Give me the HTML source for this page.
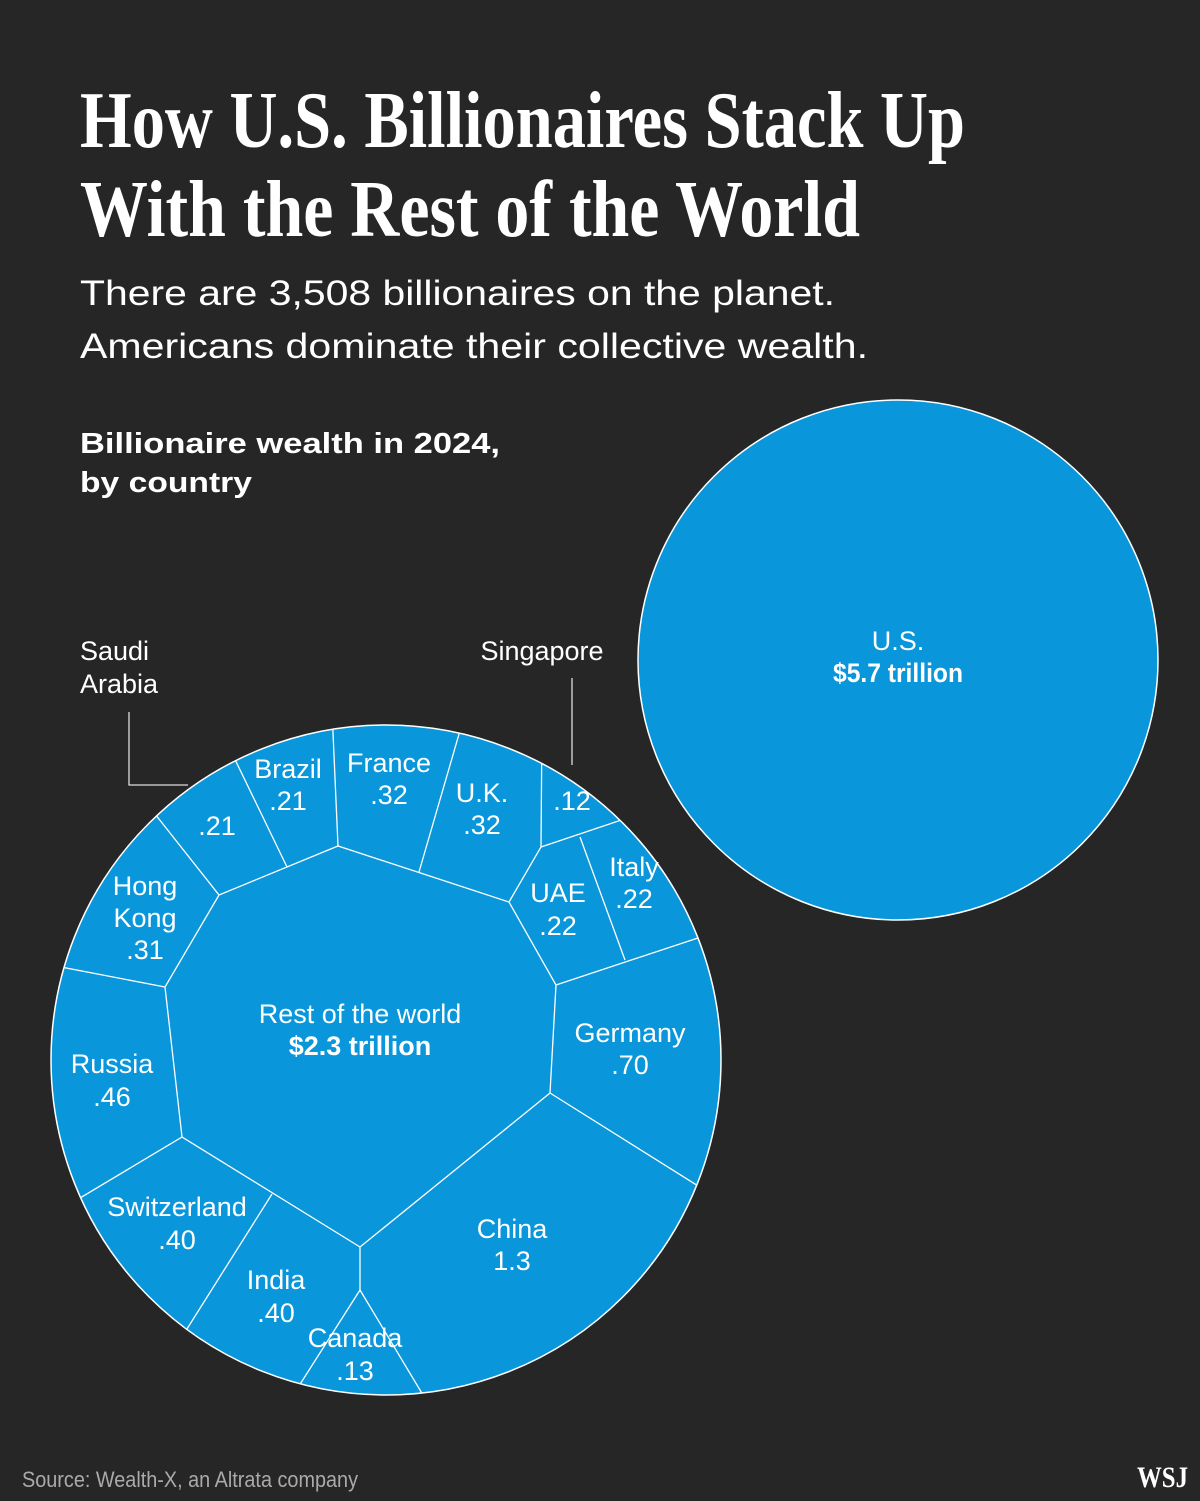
<!DOCTYPE html>
<html><head><style>
html,body{margin:0;padding:0;background:#262626;}
svg{display:block}
.l{font-family:"Liberation Sans",sans-serif;fill:#fff;font-size:27px;text-anchor:middle}
</style></head><body>
<svg width="1200" height="1501" viewBox="0 0 1200 1501" xmlns="http://www.w3.org/2000/svg">
<rect width="1200" height="1501" fill="#262626"/>
<text x="80" y="147" font-family="Liberation Serif,serif" font-weight="bold" font-size="80" fill="#fff" textLength="885" lengthAdjust="spacingAndGlyphs">How U.S. Billionaires Stack Up</text>
<text x="80" y="236" font-family="Liberation Serif,serif" font-weight="bold" font-size="80" fill="#fff" textLength="780" lengthAdjust="spacingAndGlyphs">With the Rest of the World</text>
<text x="80" y="305" font-family="Liberation Sans,sans-serif" font-size="35" fill="#fff" textLength="755" lengthAdjust="spacingAndGlyphs">There are 3,508 billionaires on the planet.</text>
<text x="80" y="358" font-family="Liberation Sans,sans-serif" font-size="35" fill="#fff" textLength="788" lengthAdjust="spacingAndGlyphs">Americans dominate their collective wealth.</text>
<text x="80" y="453" font-family="Liberation Sans,sans-serif" font-weight="bold" font-size="29" fill="#fff" textLength="420" lengthAdjust="spacingAndGlyphs">Billionaire wealth in 2024,</text>
<text x="80" y="492" font-family="Liberation Sans,sans-serif" font-weight="bold" font-size="29" fill="#fff" textLength="172" lengthAdjust="spacingAndGlyphs">by country</text>

<circle cx="898" cy="660" r="260" fill="#0a96da" stroke="#fff" stroke-width="1.5"/>
<text class="l" x="898" y="650">U.S.</text>
<text class="l" x="898" y="682" font-weight="bold" textLength="130" lengthAdjust="spacingAndGlyphs">$5.7 trillion</text>

<defs><clipPath id="c"><circle cx="386" cy="1060" r="335"/></clipPath></defs>
<circle cx="386" cy="1060" r="335" fill="#0a96da" stroke="#fff" stroke-width="1.5"/>
<g clip-path="url(#c)" stroke="#fff" stroke-width="1.3" fill="none">
<polygon points="219,895 338,846 509,902 556,985 550,1093 360,1247 182,1137 165,987"/>
<line x1="219" y1="895" x2="140" y2="795"/>
<line x1="287" y1="867" x2="228" y2="745"/>
<line x1="338" y1="846" x2="332" y2="710"/>
<line x1="419" y1="872" x2="466" y2="710"/>
<polyline points="509,902 541,847 542,720"/>
<line x1="541" y1="847" x2="660" y2="807"/>
<line x1="580" y1="837" x2="625" y2="960"/>
<line x1="556" y1="985" x2="740" y2="924"/>
<line x1="165" y1="987" x2="40" y2="963"/>
<line x1="182" y1="1137" x2="60" y2="1210"/>
<line x1="272" y1="1194" x2="180" y2="1340"/>
<polyline points="360,1247 360,1290 290,1400"/>
<line x1="360" y1="1290" x2="432" y2="1410"/>
<line x1="550" y1="1093" x2="730" y2="1206"/>
</g>
<polyline points="129,712 129,785 188,785" stroke="#ddd" stroke-width="1.3" fill="none"/>
<line x1="572" y1="678" x2="572" y2="765" stroke="#ddd" stroke-width="1.3"/>

<text class="l" x="80" y="660" style="text-anchor:start">Saudi</text>
<text class="l" x="80" y="693" style="text-anchor:start">Arabia</text>
<text class="l" x="542" y="660">Singapore</text>
<text class="l" x="288" y="778">Brazil</text><text class="l" x="288" y="810">.21</text>
<text class="l" x="217" y="835">.21</text>
<text class="l" x="389" y="772">France</text><text class="l" x="389" y="804">.32</text>
<text class="l" x="482" y="802">U.K.</text><text class="l" x="482" y="834">.32</text>
<text class="l" x="572" y="810">.12</text>
<text class="l" x="634" y="876">Italy</text><text class="l" x="634" y="908">.22</text>
<text class="l" x="558" y="902">UAE</text><text class="l" x="558" y="935">.22</text>
<text class="l" x="145" y="895">Hong</text><text class="l" x="145" y="927">Kong</text><text class="l" x="145" y="959">.31</text>
<text class="l" x="360" y="1023">Rest of the world</text>
<text class="l" x="360" y="1055" font-weight="bold">$2.3 trillion</text>
<text class="l" x="630" y="1042">Germany</text><text class="l" x="630" y="1074">.70</text>
<text class="l" x="112" y="1073">Russia</text><text class="l" x="112" y="1106">.46</text>
<text class="l" x="177" y="1216">Switzerland</text><text class="l" x="177" y="1249">.40</text>
<text class="l" x="276" y="1289">India</text><text class="l" x="276" y="1322">.40</text>
<text class="l" x="355" y="1347">Canada</text><text class="l" x="355" y="1380">.13</text>
<text class="l" x="512" y="1238">China</text><text class="l" x="512" y="1270">1.3</text>

<text x="22" y="1487" font-family="Liberation Sans,sans-serif" font-size="22" fill="#aaa" textLength="336" lengthAdjust="spacingAndGlyphs">Source: Wealth-X, an Altrata company</text>
<text x="1137" y="1487" font-family="Liberation Serif,serif" font-weight="bold" font-size="30" fill="#fff" textLength="51" lengthAdjust="spacingAndGlyphs">WSJ</text>
</svg>
</body></html>
